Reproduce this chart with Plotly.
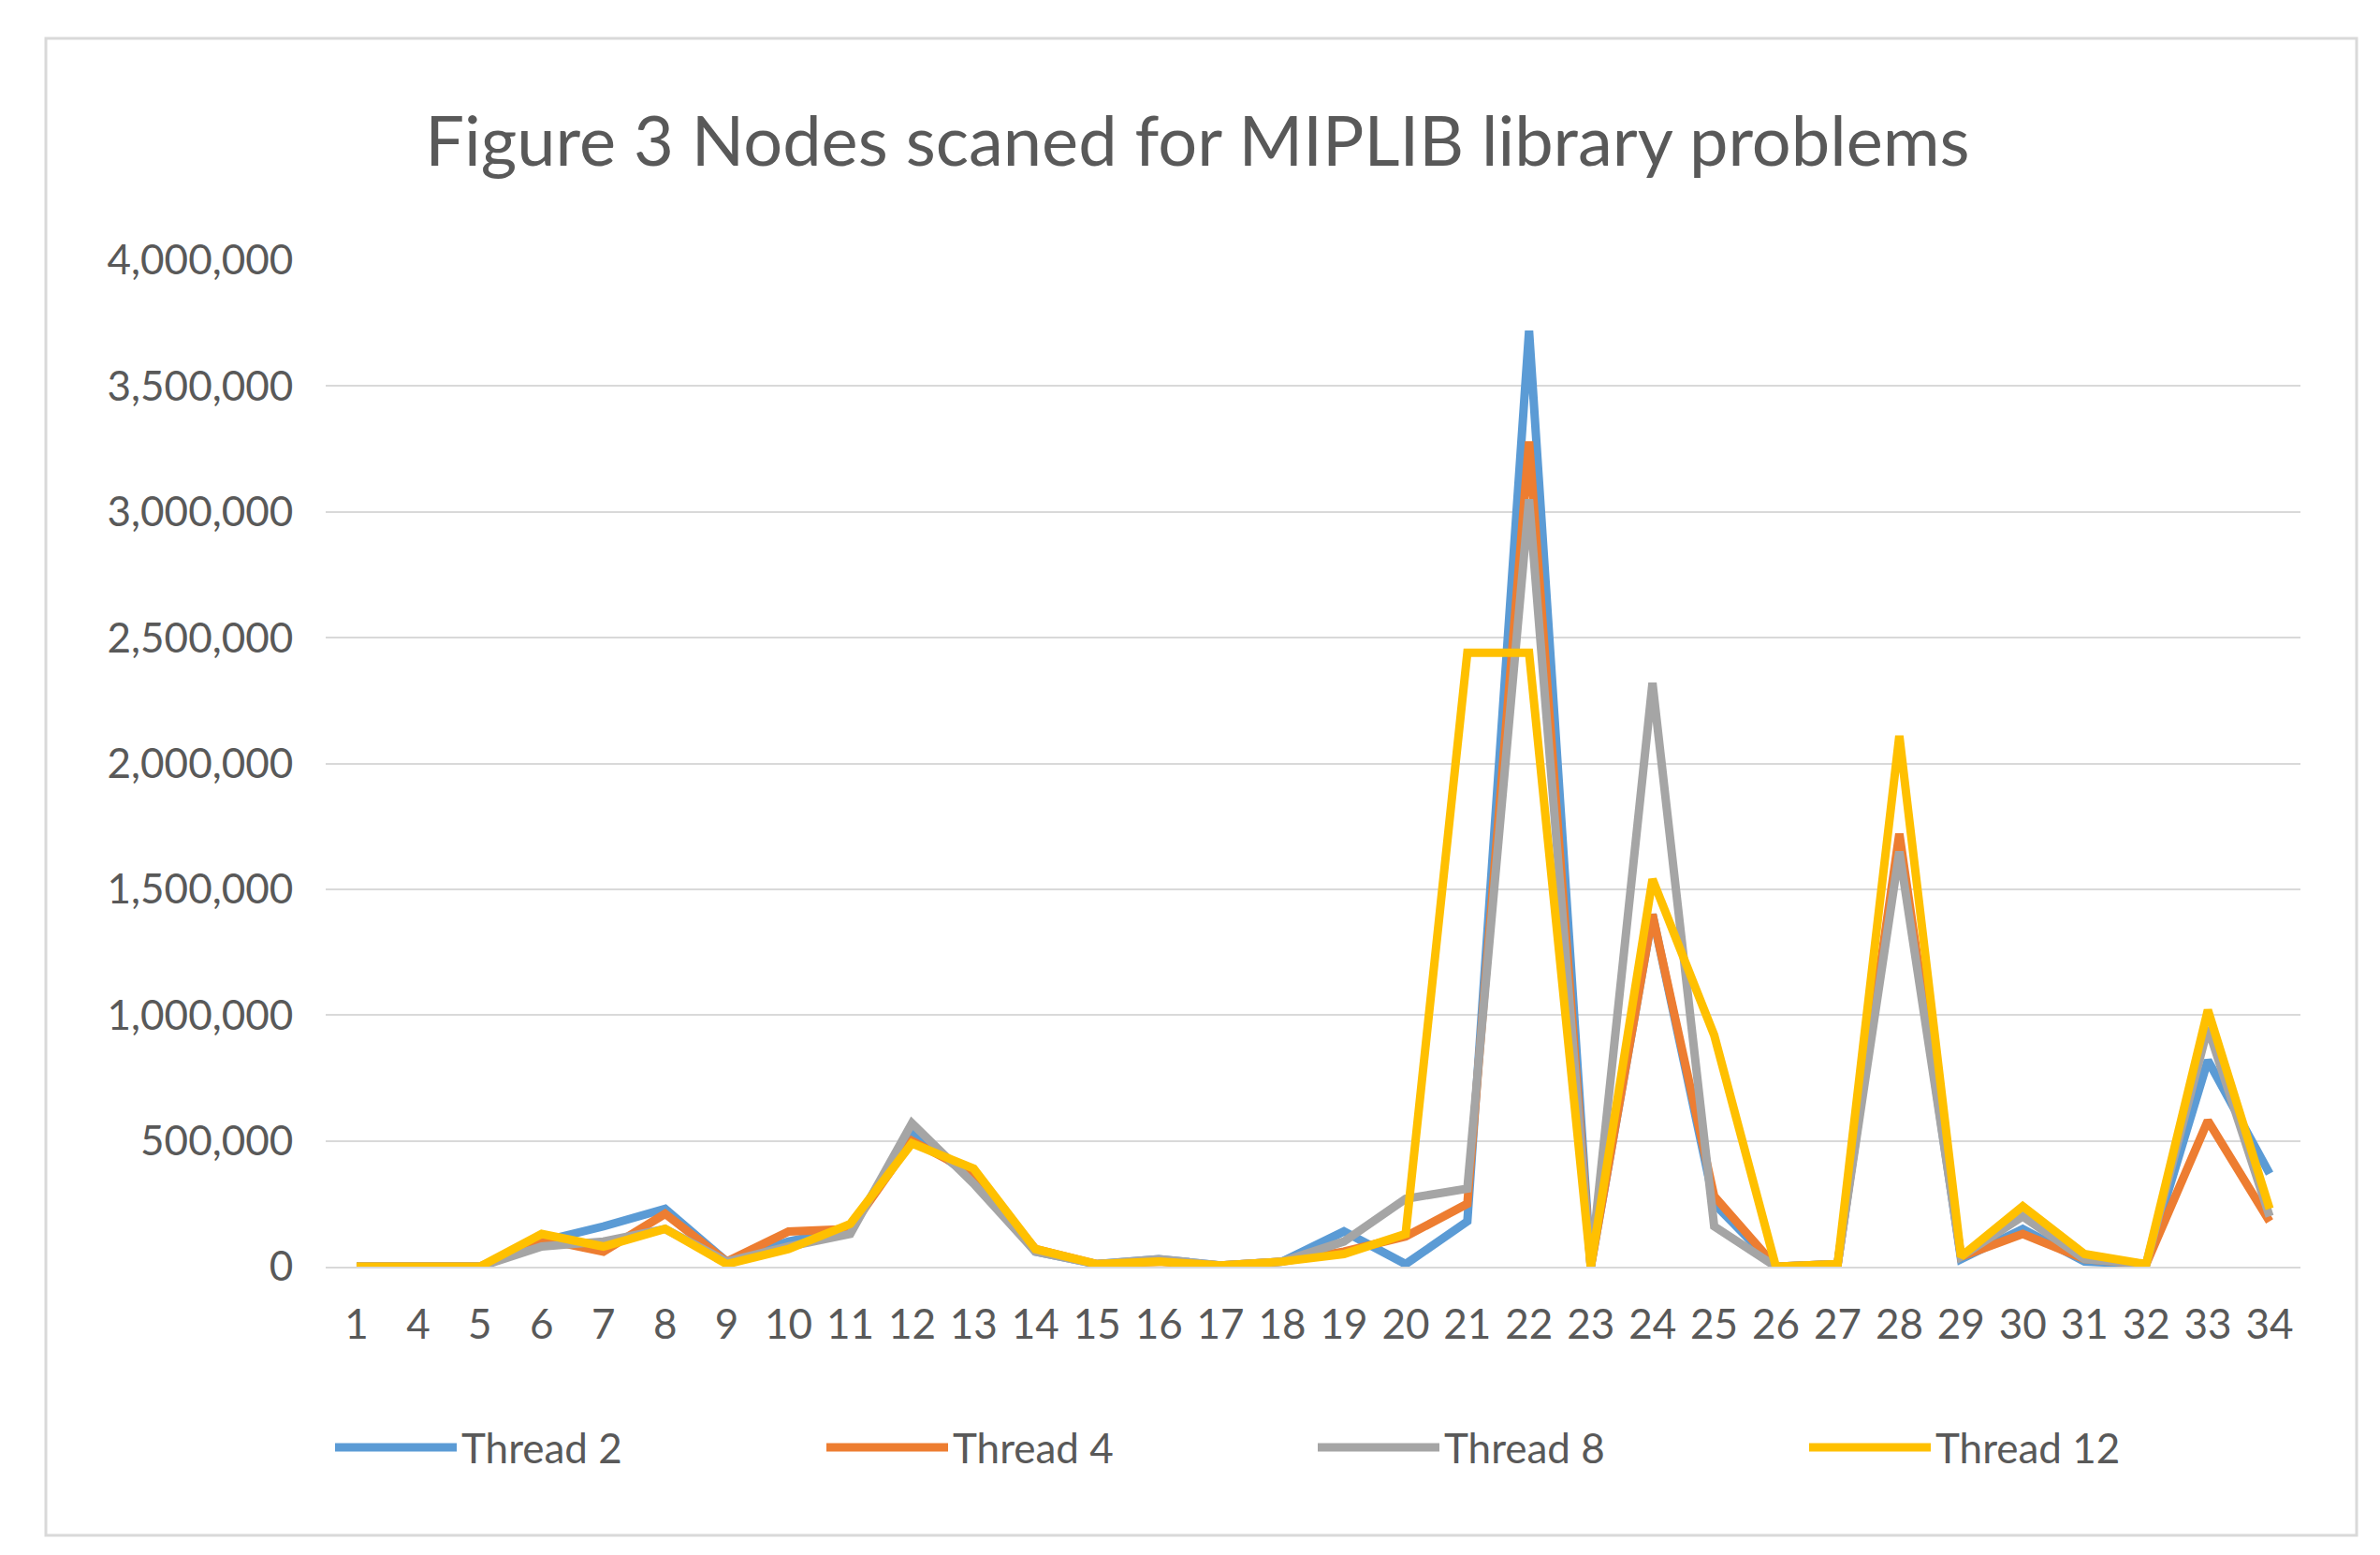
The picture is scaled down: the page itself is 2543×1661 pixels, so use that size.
import plotly.graph_objects as go

categories = ["1","4","5","6","7","8","9","10","11","12","13","14","15","16","17","18","19","20","21","22","23","24","25","26","27","28","29","30","31","32","33","34"]
thread2 = [0,0,0,100000,160000,230000,20000,100000,150000,530000,350000,60000,10000,30000,5000,20000,140000,10000,180000,3720000,0,1400000,250000,0,10000,1700000,30000,150000,20000,10000,820000,370000]
thread4 = [0,0,0,110000,60000,210000,20000,140000,150000,500000,370000,70000,10000,20000,5000,20000,60000,120000,250000,3280000,0,1400000,280000,0,10000,1720000,40000,130000,30000,10000,580000,180000]
thread8 = [0,0,0,80000,100000,150000,20000,80000,130000,570000,330000,60000,10000,30000,5000,20000,100000,270000,310000,3050000,0,2320000,160000,0,10000,1650000,40000,200000,30000,10000,950000,200000]
thread12 = [0,0,0,130000,80000,150000,10000,70000,170000,490000,390000,70000,10000,20000,5000,20000,50000,130000,2440000,2440000,0,1540000,920000,0,10000,2110000,40000,240000,50000,10000,1020000,230000]

series = [("Thread 2", thread2, "#5B9BD5"), ("Thread 4", thread4, "#ED7D31"),
          ("Thread 8", thread8, "#A5A5A5"), ("Thread 12", thread12, "#FFC000")]

fig = go.Figure()
for name, vals, col in series:
    fig.add_trace(go.Scatter(x=categories, y=vals, name=name, mode="lines",
                             line=dict(color=col, width=9)))

font = "Lato, Open Sans, sans-serif"
fig.update_layout(
    width=2543, height=1661, paper_bgcolor="white", plot_bgcolor="white",
    margin=dict(l=340, r=93, t=270, b=316),
    title=dict(text="Figure 3 Nodes scaned for MIPLIB library problems", x=0.5, xanchor="center",
               y=1-143/1661, yanchor="middle", font=dict(family=font, size=74, color="#595959")),
    font=dict(family=font, size=44, color="#595959"),
    xaxis=dict(type="category", range=[-0.5, 31.5], showgrid=False, showline=True,
               linecolor="#D9D9D9", linewidth=2, ticks="outside", ticklen=22, tickcolor="rgba(0,0,0,0)",
               tickfont=dict(size=44)),
    yaxis=dict(range=[0, 4000000], dtick=500000, tickformat=",", gridcolor="#D9D9D9", gridwidth=2,
               zeroline=False, ticks="", tickfont=dict(size=44), ticksuffix="   "),
    legend=dict(orientation="h", x=0.5, xanchor="center", y=-0.18, yanchor="middle",
                font=dict(size=44), itemwidth=130, entrywidth=380),
    shapes=[dict(type="rect", xref="paper", yref="paper", x0=-299/2110, x1=1+60/2110,
                 y0=-(1632-1345)/1075, y1=1+(270-33)/1075, line=dict(color="#D9D9D9", width=3))],
)
fig.write_html("out.html")
